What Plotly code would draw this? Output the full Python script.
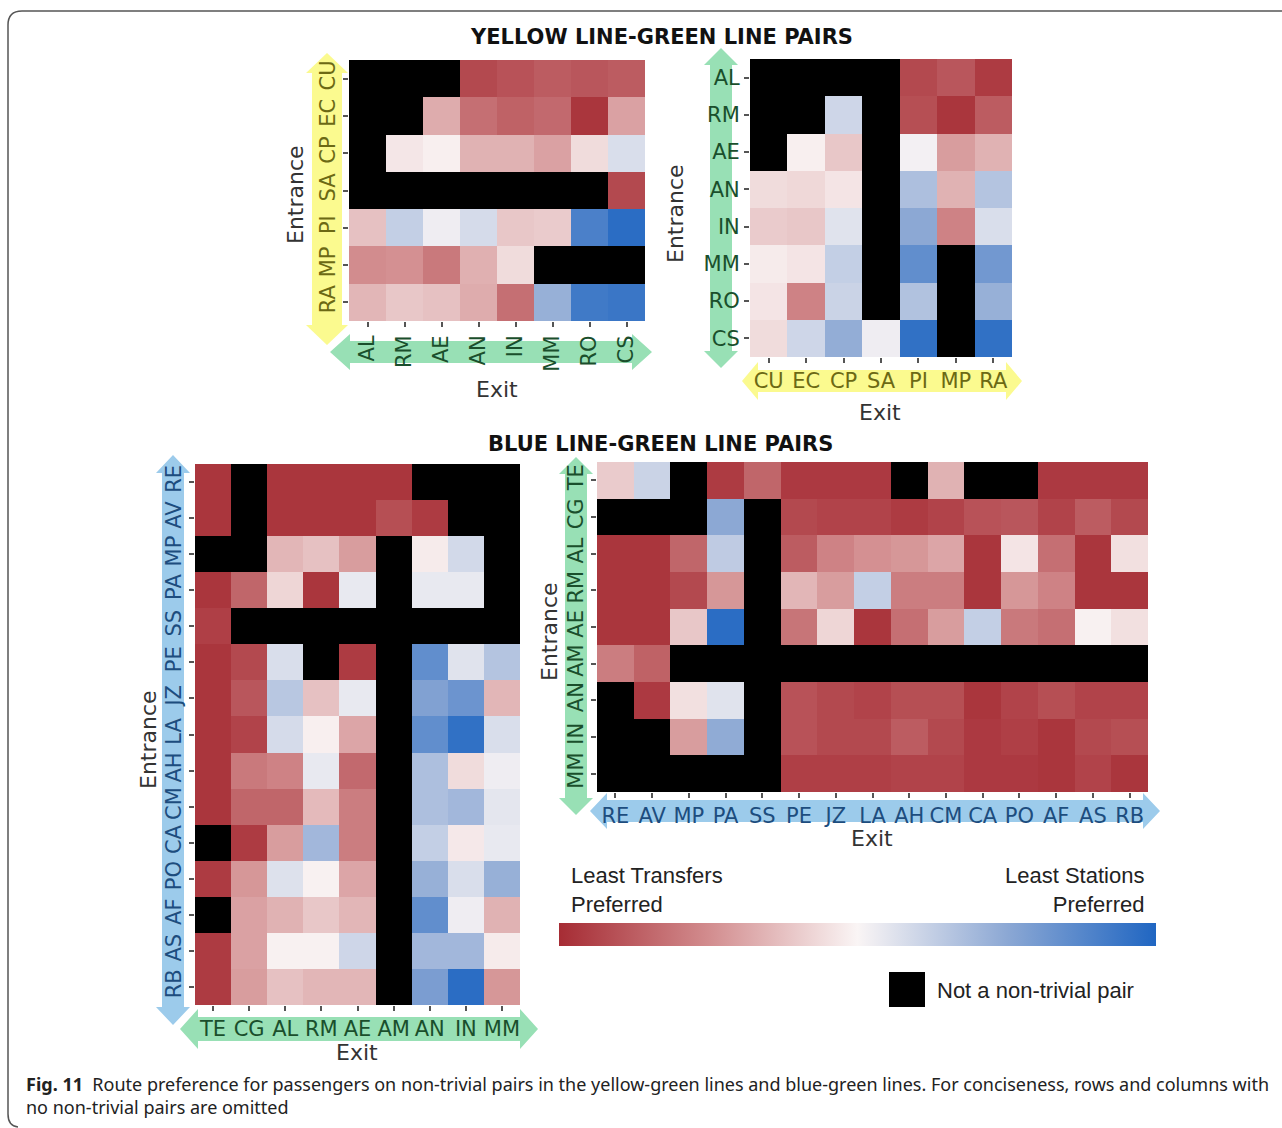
import plotly.graph_objects as go

W, H = 1282, 1128


def fx(x):
    return x / W


def fy(y):
    return 1 - y / H


N = None  # pair without a non-trivial route (drawn black)

# ---- Yellow line -> Green line ----
yg_entrance = ["CU", "EC", "CP", "SA", "PI", "MP", "RA"]
yg_exit = ["AL", "RM", "AE", "AN", "IN", "MM", "RO", "CS"]
yg_pref = [
    [N, N, N, -0.85, -0.80, -0.75, -0.78, -0.75],
    [N, N, -0.35, -0.65, -0.72, -0.68, -0.95, -0.40],
    [N, -0.07, -0.03, -0.32, -0.32, -0.40, -0.12, 0.15],
    [N, N, N, N, N, N, N, -0.85],
    [-0.25, 0.25, 0.05, 0.17, -0.22, -0.20, 0.80, 0.95],
    [-0.50, -0.48, -0.60, -0.33, -0.12, N, N, N],
    [-0.30, -0.22, -0.25, -0.35, -0.65, 0.45, 0.85, 0.88],
]

# ---- Green line -> Yellow line ----
gy_entrance = ["AL", "RM", "AE", "AN", "IN", "MM", "RO", "CS"]
gy_exit = ["CU", "EC", "CP", "SA", "PI", "MP", "RA"]
gy_pref = [
    [N, N, N, N, -0.85, -0.78, -0.92],
    [N, N, 0.20, N, -0.82, -0.95, -0.75],
    [N, -0.03, -0.22, N, 0.03, -0.42, -0.32],
    [-0.12, -0.14, -0.08, N, 0.35, -0.32, 0.32],
    [-0.20, -0.22, 0.12, N, 0.50, -0.55, 0.15],
    [-0.05, -0.08, 0.25, N, 0.70, N, 0.62],
    [-0.08, -0.55, 0.22, N, 0.33, N, 0.45],
    [-0.12, 0.20, 0.47, 0.05, 0.92, N, 0.92],
]

# ---- Blue line -> Green line ----
bg_entrance = ["RE", "AV", "MP", "PA", "SS", "PE", "JZ", "LA", "AH", "CM",
               "CA", "PO", "AF", "AS", "RB"]
bg_exit = ["TE", "CG", "AL", "RM", "AE", "AM", "AN", "IN", "MM"]
bg_pref = [
    [-0.95, N, -0.95, -0.95, -0.95, -0.95, N, N, N],
    [-0.95, N, -0.95, -0.95, -0.95, -0.82, -0.92, N, N],
    [N, N, -0.30, -0.25, -0.42, N, -0.05, 0.18, N],
    [-0.95, -0.70, -0.15, -0.95, 0.08, N, 0.08, 0.08, N],
    [-0.90, N, N, N, N, N, N, N, N],
    [-0.95, -0.85, 0.15, N, -0.92, N, 0.70, 0.12, 0.32],
    [-0.95, -0.78, 0.30, -0.25, 0.08, N, 0.55, 0.65, -0.30],
    [-0.95, -0.88, 0.17, -0.03, -0.38, N, 0.70, 0.92, 0.15],
    [-0.95, -0.60, -0.55, 0.08, -0.68, N, 0.35, -0.12, 0.05],
    [-0.95, -0.70, -0.70, -0.28, -0.58, N, 0.35, 0.40, 0.10],
    [N, -0.92, -0.42, 0.40, -0.58, N, 0.25, -0.06, 0.08],
    [-0.92, -0.45, 0.13, -0.02, -0.38, N, 0.45, 0.15, 0.45],
    [N, -0.40, -0.32, -0.22, -0.30, N, 0.70, 0.05, -0.32],
    [-0.92, -0.40, -0.02, -0.02, 0.20, N, 0.40, 0.40, -0.05],
    [-0.92, -0.42, -0.25, -0.30, -0.30, N, 0.58, 0.95, -0.45],
]

# ---- Green line -> Blue line ----
gb_entrance = ["TE", "CG", "AL", "RM", "AE", "AM", "AN", "IN", "MM"]
gb_exit = ["RE", "AV", "MP", "PA", "SS", "PE", "JZ", "LA", "AH", "CM",
           "CA", "PO", "AF", "AS", "RB"]
gb_pref = [
    [-0.20, 0.22, N, -0.92, -0.70, -0.93, -0.93, -0.93, N, -0.32, N, N, -0.93, -0.93, -0.93],
    [N, N, N, 0.50, N, -0.85, -0.88, -0.88, -0.92, -0.88, -0.80, -0.78, -0.88, -0.75, -0.85],
    [-0.95, -0.95, -0.70, 0.27, N, -0.75, -0.55, -0.48, -0.45, -0.38, -0.95, -0.08, -0.65, -0.95, -0.10],
    [-0.95, -0.95, -0.85, -0.45, N, -0.30, -0.42, 0.25, -0.58, -0.58, -0.95, -0.45, -0.55, -0.95, -0.95],
    [-0.95, -0.95, -0.22, 0.95, N, -0.62, -0.15, -0.95, -0.65, -0.42, 0.25, -0.60, -0.65, -0.02, -0.10],
    [-0.58, -0.72, N, N, N, N, N, N, N, N, N, N, N, N, N],
    [N, -0.93, -0.10, 0.12, N, -0.80, -0.85, -0.88, -0.82, -0.82, -0.95, -0.88, -0.82, -0.88, -0.88],
    [N, N, -0.42, 0.48, N, -0.80, -0.85, -0.85, -0.75, -0.85, -0.93, -0.90, -0.95, -0.85, -0.82],
    [N, N, N, N, N, -0.90, -0.90, -0.90, -0.88, -0.88, -0.93, -0.93, -0.95, -0.88, -0.95],
]

# line colours (arrow fill, label text)
GREEN_FILL, GREEN_TXT = "#98e0b5", "#1a4f2c"
YELLOW_FILL, YELLOW_TXT = "#fbfa8f", "#6c6914"
BLUE_FILL, BLUE_TXT = "#9ccbeb", "#1d4d7e"

TICK_FONT = "DejaVu Sans"
TEXT_GREY = "#333333"

fig = go.Figure()

panels = [
    dict(z=yg_pref, x=yg_exit, y=yg_entrance, box=(349, 645, 60, 321),
         xc=GREEN_TXT, yc=YELLOW_TXT, xangle=-90, yangle=-90),
    dict(z=gy_pref, x=gy_exit, y=gy_entrance, box=(750, 1012, 59, 357),
         xc=YELLOW_TXT, yc=GREEN_TXT, xangle=0, yangle=0),
    dict(z=bg_pref, x=bg_exit, y=bg_entrance, box=(195, 520, 464, 1005),
         xc=GREEN_TXT, yc=BLUE_TXT, xangle=0, yangle=-90),
    dict(z=gb_pref, x=gb_exit, y=gb_entrance, box=(597, 1148, 462, 792),
         xc=BLUE_TXT, yc=GREEN_TXT, xangle=0, yangle=-90),
]

layout_axes = {}
for i, p in enumerate(panels, start=1):
    sfx = "" if i == 1 else str(i)
    fig.add_trace(go.Heatmap(
        z=p["z"], x=p["x"], y=p["y"], coloraxis="coloraxis",
        xaxis="x" + sfx, yaxis="y" + sfx, hoverongaps=False,
    ))
    x0, x1, y0, y1 = p["box"]
    common = dict(showgrid=False, zeroline=False, showline=False,
                  ticks="outside", ticklen=5, tickwidth=1.5, tickcolor="#555555")
    layout_axes["xaxis" + sfx] = dict(
        domain=[fx(x0), fx(x1)], anchor="y" + sfx, tickangle=p["xangle"],
        tickfont=dict(family=TICK_FONT, size=21, color=p["xc"]), **common)
    layout_axes["yaxis" + sfx] = dict(
        domain=[fy(y1), fy(y0)], anchor="x" + sfx, autorange="reversed",
        tickangle=p["yangle"],
        tickfont=dict(family=TICK_FONT, size=21, color=p["yc"]), **common)

fig.update_layout(**layout_axes)


def harrow(xa, xb, yc, shaft, head, hl):
    return (f"M {fx(xa)} {fy(yc)} L {fx(xa + hl)} {fy(yc - head)} L {fx(xa + hl)} {fy(yc - shaft)} "
            f"L {fx(xb - hl)} {fy(yc - shaft)} L {fx(xb - hl)} {fy(yc - head)} L {fx(xb)} {fy(yc)} "
            f"L {fx(xb - hl)} {fy(yc + head)} L {fx(xb - hl)} {fy(yc + shaft)} "
            f"L {fx(xa + hl)} {fy(yc + shaft)} L {fx(xa + hl)} {fy(yc + head)} Z")


def varrow(xc, ya, yb, shaft, head, hl):
    return (f"M {fx(xc)} {fy(ya)} L {fx(xc + head)} {fy(ya + hl)} L {fx(xc + shaft)} {fy(ya + hl)} "
            f"L {fx(xc + shaft)} {fy(yb - hl)} L {fx(xc + head)} {fy(yb - hl)} L {fx(xc)} {fy(yb)} "
            f"L {fx(xc - head)} {fy(yb - hl)} L {fx(xc - shaft)} {fy(yb - hl)} "
            f"L {fx(xc - shaft)} {fy(ya + hl)} L {fx(xc - head)} {fy(ya + hl)} Z")


arrows = [
    (varrow(327, 53, 345, 15, 21, 20), YELLOW_FILL),
    (harrow(330, 652, 352, 11, 18, 20), GREEN_FILL),
    (varrow(721, 48, 368, 11, 17, 17), GREEN_FILL),
    (harrow(742, 1022, 381, 11, 19, 16), YELLOW_FILL),
    (varrow(173, 455, 1025, 11, 17, 18), BLUE_FILL),
    (harrow(180, 538, 1029, 12, 20, 18), GREEN_FILL),
    (varrow(576, 457, 815, 11, 17, 17), GREEN_FILL),
    (harrow(590, 1160, 811, 11, 18, 17), BLUE_FILL),
]
shapes = [dict(type="path", path=p, xref="paper", yref="paper", fillcolor=c,
               line=dict(width=0), layer="below") for p, c in arrows]

# legend swatch for missing pairs
shapes.append(dict(type="rect", xref="paper", yref="paper",
                   x0=fx(889), x1=fx(925), y0=fy(1007), y1=fy(972),
                   fillcolor="black", line=dict(width=0)))

# frame around the figure
frame = (f"M {fx(1282)} {fy(11)} L {fx(22)} {fy(11)} Q {fx(8)} {fy(11)} {fx(8)} {fy(25)} "
         f"L {fx(8)} {fy(1114)} Q {fx(8)} {fy(1126)} {fx(18)} {fy(1127)}")
shapes.append(dict(type="path", path=frame, xref="paper", yref="paper",
                   line=dict(color="#555555", width=1.5)))

fig.update_layout(shapes=shapes)

ann = []


def text(x, y, s, size=22, color=TEXT_GREY, family=TICK_FONT, angle=0,
         xanchor="center"):
    ann.append(dict(x=fx(x), y=fy(y), xref="paper", yref="paper", text=s,
                    showarrow=False, textangle=angle, xanchor=xanchor,
                    yanchor="middle", align=xanchor if xanchor != "center" else "center",
                    font=dict(size=size, color=color, family=family)))


text(661, 37, "<b>YELLOW LINE-GREEN LINE PAIRS</b>", size=21, color="#111111",
     family="DejaVu Sans")
text(660, 444, "<b>BLUE LINE-GREEN LINE PAIRS</b>", size=21, color="#111111",
     family="DejaVu Sans")

for ex, ey, nx, ny in [(497, 390, 296, 195), (880, 412, 676, 213),
                       (357, 1052, 148, 740), (872, 838, 549, 632)]:
    text(ex, ey, "Exit")
    text(nx, ny, "Entrance", angle=-90)

text(569, 890, "Least Transfers<br>Preferred", size=22, color="#222222",
     family="Liberation Sans", xanchor="left")
text(1146, 890, "Least Stations<br>Preferred", size=22, color="#222222",
     family="Liberation Sans", xanchor="right")
text(935, 990, "Not a non-trivial pair", size=22, color="#222222",
     family="Liberation Sans", xanchor="left")

text(24, 1095, "<b>Fig. 11</b>  Route preference for passengers on non-trivial pairs in the "
     "yellow-green lines and blue-green lines. For conciseness, rows and columns with<br>"
     "no non-trivial pairs are omitted", size=18, color="#222222",
     family="Noto Sans", xanchor="left")

fig.update_layout(annotations=ann)

fig.update_layout(
    width=W, height=H, margin=dict(l=0, r=0, t=0, b=0),
    paper_bgcolor="white", plot_bgcolor="black", showlegend=False,
    coloraxis=dict(
        cmin=-1, cmax=1,
        colorscale=[[0.0, "rgb(166,44,52)"], [0.25, "rgb(210,140,142)"],
                    [0.5, "rgb(250,245,245)"], [0.75, "rgb(140,168,212)"],
                    [1.0, "rgb(32,102,194)"]],
        colorbar=dict(orientation="h", x=fx(559), xanchor="left",
                      y=fy(946), yanchor="bottom", len=597, lenmode="pixels",
                      thickness=23, outlinewidth=0, xpad=0, ypad=0,
                      showticklabels=False, ticks=""),
    ),
)

fig.write_html("out.html")
